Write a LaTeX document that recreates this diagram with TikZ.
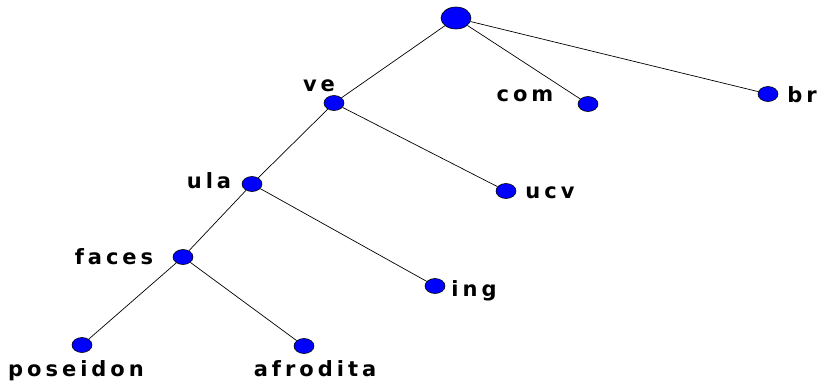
\documentclass[tikz,border=0pt]{standalone}
\usepackage{fontspec}
\usetikzlibrary{shapes.geometric}
\newfontfamily\lblfont{DejaVu Sans}[LetterSpace=19]
\begin{document}
\begin{tikzpicture}[x=1pt,y=-1pt,
  leaf/.style={ellipse,draw=black,fill=blue,line width=0.6pt,minimum width=20pt,minimum height=15pt,inner sep=0pt},
  rootnode/.style={ellipse,draw=black,fill=blue,line width=0.6pt,minimum width=30pt,minimum height=22pt,inner sep=0pt},
  lbl/.style={font=\lblfont\bfseries\fontsize{21}{24}\selectfont,inner sep=0pt,anchor=base},
  conn/.style={draw=black,line width=0.7pt}]
\useasboundingbox (0,0) rectangle (828,383);
\node[rootnode] (root) at (456,18) {};
\node[leaf] (ve) at (334,103) {};
\node[leaf] (com) at (588,104) {};
\node[leaf] (br) at (768,94) {};
\node[leaf] (ula) at (252,184) {};
\node[leaf] (ucv) at (506,191) {};
\node[leaf] (faces) at (183,257) {};
\node[leaf] (ing) at (435,286) {};
\node[leaf] (poseidon) at (82,345) {};
\node[leaf] (afrodita) at (304,346) {};
\node[lbl] (tve) at (319,91) {ve};
\node[lbl] (tcom) at (525,101) {com};
\node[lbl] (tbr) at (802,102) {br};
\node[lbl] (tula) at (209,188) {ula};
\node[lbl] (tucv) at (550,198) {ucv};
\node[lbl] (tfaces) at (114,264) {faces};
\node[lbl] (ting) at (474,296) {ing};
\node[lbl] (tposeidon) at (76,376) {poseidon};
\node[lbl] (tafrodita) at (315,376) {afrodita};
\draw[conn] (root) -- (ve);
\draw[conn] (root) -- (com);
\draw[conn] (root) -- (br);
\draw[conn] (ve) -- (ula);
\draw[conn] (ve) -- (ucv);
\draw[conn] (ula) -- (faces);
\draw[conn] (ula) -- (ing);
\draw[conn] (faces) -- (poseidon);
\draw[conn] (faces) -- (afrodita);
\end{tikzpicture}
\end{document}
